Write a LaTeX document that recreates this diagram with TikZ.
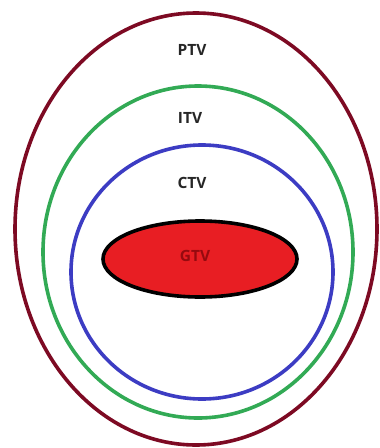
\documentclass[tikz,border=0pt]{standalone}
\usepackage{fontspec}
\setmainfont{Open Sans}
\usepackage{tikz}
\usetikzlibrary{positioning}

\definecolor{ptvred}{RGB}{125,10,35}
\definecolor{itvgreen}{RGB}{50,170,85}
\definecolor{ctvblue}{RGB}{60,60,195}
\definecolor{gtvfill}{RGB}{232,30,35}
\definecolor{gtvtext}{RGB}{150,10,15}

\tikzset{
  vol/.style={line width=3.6pt},
  vollabel/.style={font=\fontsize{15.5}{18}\selectfont\bfseries, text=black!85}
}

\begin{document}
\begin{tikzpicture}[x=1pt, y=-1pt]
    \useasboundingbox[fill=white] (0,0) rectangle (380,448);
    % Planning target volume
    \draw[vol, ptvred] (196,229) ellipse (181 and 216);
    \node[vollabel] (ptv) at (192,50) {PTV};
    % Internal target volume
    \draw[vol, itvgreen] (198,252) ellipse (155 and 166);
    \node[vollabel] (itv) at (190,118) {ITV};
    % Clinical target volume
    \draw[vol, ctvblue] (202,272) ellipse (131 and 127);
    \node[vollabel] (ctv) at (192,183) {CTV};
    % Gross tumour volume
    \fill[gtvfill] (200,259) ellipse (97 and 38);
    \draw[vol, black] (200,259) ellipse (97 and 38);
    \node[vollabel, text=gtvtext] (gtv) at (195,256) {GTV};
\end{tikzpicture}
\end{document}
